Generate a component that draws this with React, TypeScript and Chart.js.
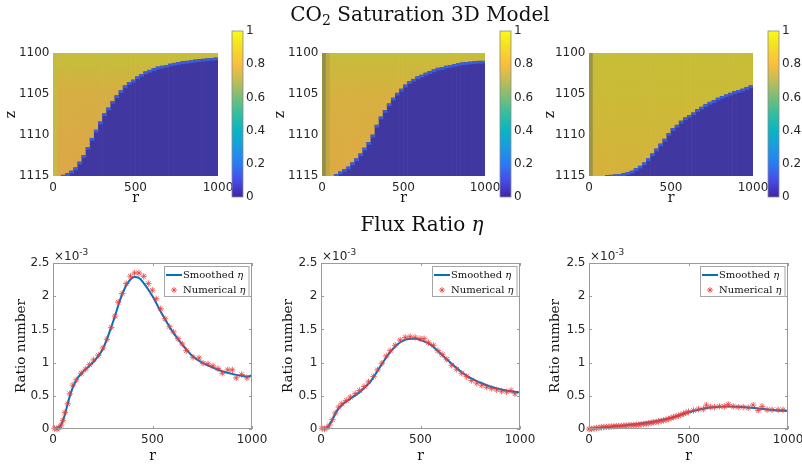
import React, { useEffect, useRef } from "react";
import { Chart, registerables } from "chart.js";
Chart.register(...registerables);

// ---------------- data ----------------
const R_CELLS = [
  12.5, 37.5, 62.5, 87.5, 112.5, 137.5, 162.5, 187.5, 212.5, 237.5,
  262.5, 287.5, 312.5, 337.5, 362.5, 387.5, 412.5, 437.5, 462.5, 487.5,
  512.5, 537.5, 562.5, 587.5, 612.5, 637.5, 662.5, 687.5, 712.5, 737.5,
  762.5, 787.5, 812.5, 837.5, 862.5, 887.5, 912.5, 937.5, 962.5, 987.5,
];
const Z_FRONT_1 = [
  1115, 1115, 1114.9, 1114.7, 1114.4, 1114.0, 1113.3, 1112.5, 1111.5, 1110.4,
  1109.4, 1108.4, 1107.4, 1106.7, 1105.9, 1105.2, 1104.6, 1104.0, 1103.6, 1103.3,
  1102.9, 1102.6, 1102.3, 1102.1, 1101.9, 1101.7, 1101.6, 1101.5, 1101.35, 1101.25,
  1101.15, 1101.05, 1101.0, 1100.95, 1100.85, 1100.8, 1100.75, 1100.7, 1100.65, 1100.6,
];
const Z_FRONT_2 = [
  1115, 1115, 1115, 1114.8, 1114.5, 1114.2, 1113.9, 1113.4, 1112.9, 1112.3,
  1111.6, 1110.9, 1110.0, 1108.8, 1107.8, 1107.0, 1106.2, 1105.5, 1104.9, 1104.4,
  1103.9, 1103.5, 1103.2, 1102.9, 1102.7, 1102.45, 1102.25, 1102.05, 1101.85, 1101.75,
  1101.6, 1101.5, 1101.4, 1101.3, 1101.2, 1101.15, 1101.1, 1101.05, 1101.0, 1101.0,
];
const Z_FRONT_3 = [
  1115, 1115, 1115, 1115, 1114.95, 1114.9, 1114.85, 1114.8, 1114.7, 1114.55,
  1114.4, 1114.1, 1113.8, 1113.4, 1112.9, 1112.3, 1111.7, 1111.1, 1110.5, 1109.8,
  1109.2, 1108.8, 1108.3, 1107.9, 1107.6, 1107.3, 1106.9, 1106.6, 1106.3, 1106.0,
  1105.8, 1105.5, 1105.3, 1105.1, 1104.9, 1104.7, 1104.55, 1104.4, 1104.2, 1104.0,
];

// flux ratio (units of 1e-3)
const R_NUM_1 = [8, 20, 30, 42, 50, 60, 74, 84, 100, 117, 142, 164, 184, 204, 228, 251, 271, 293, 312, 328, 348, 368, 389, 410, 432, 456, 479, 499, 519, 541, 563, 586, 606, 628, 650, 670, 704, 734, 754, 779, 804, 829, 851, 878, 901, 921, 948, 975];
const ETA_NUM_1 = [0.01, 0, 0.02, 0.06, 0.13, 0.25, 0.38, 0.53, 0.66, 0.74, 0.84, 0.9, 0.97, 1.04, 1.11, 1.22, 1.35, 1.53, 1.7, 1.91, 2.04, 2.19, 2.3, 2.35, 2.35, 2.3, 2.19, 2.09, 1.96, 1.81, 1.66, 1.54, 1.46, 1.36, 1.28, 1.18, 1.08, 1.07, 0.99, 0.98, 0.95, 0.91, 0.84, 0.89, 0.89, 0.77, 0.82, 0.77];
const R_SM_1 = [0, 20, 40, 60, 80, 100, 120, 150, 200, 250, 300, 350, 380, 410, 430, 450, 500, 550, 600, 650, 700, 750, 800, 850, 900, 950, 980, 1000];
const ETA_SM_1 = [0, 0.01, 0.06, 0.22, 0.45, 0.63, 0.75, 0.86, 1.0, 1.2, 1.6, 2.05, 2.22, 2.29, 2.28, 2.22, 2.0, 1.72, 1.47, 1.27, 1.1, 1.0, 0.93, 0.87, 0.83, 0.8, 0.79, 0.81];

const R_NUM_2 = [5, 17, 30, 43, 57, 72, 89, 105, 127, 147, 172, 194, 217, 239, 264, 284, 306, 328, 348, 373, 398, 423, 448, 473, 498, 518, 540, 565, 587, 609, 632, 657, 682, 707, 732, 757, 783, 808, 833, 858, 883, 908, 933, 955, 975];
const ETA_NUM_2 = [0.01, 0, 0.02, 0.06, 0.14, 0.24, 0.33, 0.38, 0.43, 0.48, 0.53, 0.58, 0.64, 0.71, 0.79, 0.89, 0.99, 1.1, 1.18, 1.26, 1.34, 1.38, 1.39, 1.38, 1.36, 1.36, 1.3, 1.26, 1.18, 1.12, 1.05, 0.96, 0.9, 0.84, 0.79, 0.73, 0.69, 0.66, 0.63, 0.61, 0.59, 0.57, 0.56, 0.58, 0.53];
const R_SM_2 = [0, 25, 50, 75, 100, 150, 200, 250, 300, 350, 400, 450, 480, 500, 550, 600, 650, 700, 750, 800, 850, 900, 950, 1000];
const ETA_SM_2 = [0, 0.01, 0.1, 0.25, 0.35, 0.46, 0.57, 0.72, 0.95, 1.17, 1.31, 1.36, 1.36, 1.34, 1.27, 1.14, 1.0, 0.87, 0.77, 0.7, 0.64, 0.6, 0.57, 0.55];

const R_NUM_3 = [0, 12, 25, 37, 50, 62, 75, 87, 100, 112, 125, 137, 150, 162, 175, 187, 200, 212, 225, 237, 250, 262, 275, 287, 300, 312, 325, 337, 350, 362, 375, 387, 400, 412, 425, 437, 450, 462, 475, 487, 500, 525, 550, 575, 590, 610, 630, 655, 680, 700, 725, 750, 775, 800, 825, 850, 870, 895, 920, 950, 975];
const ETA_NUM_3 = [0, 0, 0.01, 0.015, 0.02, 0.025, 0.03, 0.032, 0.035, 0.037, 0.04, 0.042, 0.045, 0.047, 0.05, 0.052, 0.055, 0.057, 0.06, 0.062, 0.065, 0.07, 0.075, 0.08, 0.085, 0.092, 0.1, 0.107, 0.115, 0.122, 0.13, 0.14, 0.15, 0.165, 0.18, 0.19, 0.2, 0.215, 0.23, 0.245, 0.26, 0.28, 0.3, 0.3, 0.36, 0.33, 0.33, 0.34, 0.34, 0.37, 0.34, 0.33, 0.33, 0.32, 0.36, 0.28, 0.34, 0.29, 0.29, 0.29, 0.29];
const R_SM_3 = [0, 100, 200, 300, 400, 450, 500, 550, 600, 650, 700, 750, 800, 850, 900, 950, 1000];
const ETA_SM_3 = [0, 0.03, 0.06, 0.1, 0.16, 0.2, 0.25, 0.29, 0.32, 0.335, 0.34, 0.335, 0.325, 0.31, 0.295, 0.28, 0.27];

const X_TICKS = [0, 500, 1000];
const Z_TICKS = [1100, 1105, 1110, 1115];
const CBAR_TICKS = [0, 0.2, 0.4, 0.6, 0.8, 1];
const ETA_TICKS = [0, 0.5, 1, 1.5, 2, 2.5];
const LEGEND_LABELS = ["Smoothed", "Numerical"];

// ---------------- styles ----------------
const W = 802;
const H = 466;
const SANS = '"DejaVu Sans", sans-serif';
const SERIF = '"DejaVu Serif", serif';
const TXT = "#262626";
const LINE_BLUE = "#0072BD";
const STAR_RED = "rgba(232,60,60,0.8)";
const HEAT_BLUE = "rgb(64,55,160)";
const HEAT_EDGE = "rgb(60,92,218)";
const EDGE_DZ = 0.25;
const PARULA: [number, string][] = [
  [0.0, "rgb(62,38,168)"], [0.1, "rgb(70,76,232)"], [0.2, "rgb(42,122,245)"],
  [0.3, "rgb(25,155,225)"], [0.4, "rgb(10,180,195)"], [0.5, "rgb(50,190,160)"],
  [0.6, "rgb(120,190,120)"], [0.7, "rgb(192,188,85)"], [0.8, "rgb(250,190,60)"],
  [0.9, "rgb(245,220,40)"], [1.0, "rgb(249,251,20)"],
];

type Area = { L: number; T: number; R: number; B: number };
type Look = { stops: [number, string][]; strips: Record<number, string> };

const LOOK_1: Look = {
  stops: [[0, "rgb(198,190,58)"], [0.1, "rgb(201,186,60)"], [0.3, "rgb(213,175,66)"], [1, "rgb(222,166,72)"]],
  strips: { 0: "rgb(196,188,66)" },
};
const LOOK_2: Look = {
  stops: [[0, "rgb(198,190,58)"], [0.12, "rgb(204,184,60)"], [0.35, "rgb(215,176,64)"], [1, "rgb(222,170,66)"]],
  strips: { 0: "rgb(150,142,72)", 1: "rgb(190,168,66)" },
};
const LOOK_3: Look = {
  stops: [[0, "rgb(198,190,56)"], [0.4, "rgb(204,186,54)"], [1, "rgb(214,177,60)"]],
  strips: { 0: "rgb(156,148,70)" },
};

const fixedTicks = (vals: number[]) => (s: any) => {
  s.ticks = vals.map((v) => ({ value: v }));
};
const fmt = (v: any) => String(Math.round(Number(v) * 10) / 10);

function gradientFor(c: any, v0: number, v1: number, stops: [number, string][]) {
  const ch = c.chart;
  const ys = ch && ch.scales && ch.scales.y;
  if (!ys || !ch.chartArea) return stops[Math.floor(stops.length / 2)][1];
  const p0 = ys.getPixelForValue(v0);
  const p1 = ys.getPixelForValue(v1);
  if (!isFinite(p0) || !isFinite(p1) || p0 === p1) return stops[Math.floor(stops.length / 2)][1];
  const g = ch.ctx.createLinearGradient(0, p0, 0, p1);
  stops.forEach(([s, col]) => g.addColorStop(s, col));
  return g;
}

function xAxis(xH: number, pad: number, title: boolean) {
  return {
    type: "linear",
    min: X_TICKS[0],
    max: X_TICKS[X_TICKS.length - 1],
    offset: false,
    afterBuildTicks: fixedTicks(X_TICKS),
    afterFit: (s: any) => {
      s.height = xH;
      s.paddingLeft = 0;
      s.paddingRight = 0;
    },
    grid: { display: false, drawTicks: false, offset: false },
    border: { display: false },
    ticks: { autoSkip: false, maxRotation: 0, padding: pad, color: TXT, font: { family: SANS, size: 12 }, callback: fmt },
    title: { display: title, text: "r", color: "#111", padding: 0, font: { family: SERIF, size: 14 } },
  };
}

function yAxis(vals: number[], yW: number, text: string, reverse: boolean, size: number) {
  return {
    type: "linear",
    min: vals[0],
    max: vals[vals.length - 1],
    reverse,
    afterBuildTicks: fixedTicks(vals),
    afterFit: (s: any) => {
      s.width = yW;
      s.paddingTop = 0;
      s.paddingBottom = 0;
    },
    grid: { display: false, drawTicks: false },
    border: { display: false },
    ticks: { autoSkip: false, padding: 3.5, color: TXT, font: { family: SANS, size: 12 }, callback: fmt },
    title: { display: true, text, color: "#111", padding: 0, font: { family: SERIF, size } },
  };
}

function baseOptions(layoutPadding: any) {
  return {
    responsive: false,
    animation: false,
    devicePixelRatio: 1,
    events: [],
    layout: { padding: layoutPadding },
    plugins: { legend: { display: false }, tooltip: { enabled: false }, title: { display: false } },
  };
}

function heatConfig(area: Area, yW: number, front: number[], look: Look) {
  const zTop = Z_TICKS[0];
  const zBot = Z_TICKS[Z_TICKS.length - 1];
  const idx = R_CELLS.map((_, i) => i).filter((i) => front[i] < zBot);
  const xH = 30.4;
  return {
    type: "bar",
    data: {
      datasets: [
        {
          data: R_CELLS.map((r, i) => ({ x: r, y: [zTop, front[i]] })),
          backgroundColor: (c: any) => {
            if (c.dataIndex !== undefined && look.strips[c.dataIndex]) return look.strips[c.dataIndex];
            return gradientFor(c, zTop, zBot, look.stops);
          },
          order: 3,
        },
        { data: idx.map((i) => ({ x: R_CELLS[i], y: [front[i], zBot] })), backgroundColor: HEAT_BLUE, order: 2 },
        {
          data: idx.map((i) => ({ x: R_CELLS[i], y: [front[i], Math.min(front[i] + EDGE_DZ, zBot)] })),
          backgroundColor: HEAT_EDGE,
          order: 1,
        },
      ].map((d) => ({ ...d, grouped: false, barPercentage: 1, categoryPercentage: 1, borderWidth: 0 })),
    },
    options: {
      ...baseOptions({ left: area.L - yW, top: area.T, right: W - area.R, bottom: H - area.B - xH }),
      scales: {
        x: xAxis(xH, 5, true),
        y: yAxis(Z_TICKS, yW, "z", true, 14),
      },
    },
  };
}

function colorbarConfig(area: Area) {
  const axW = 30;
  const frame = {
    id: "cbFrame",
    afterDatasetsDraw(chart: any) {
      const { ctx, chartArea: a } = chart;
      ctx.save();
      ctx.strokeStyle = "#8a8a8a";
      ctx.lineWidth = 0.8;
      ctx.strokeRect(a.left, a.top, a.right - a.left, a.bottom - a.top);
      ctx.restore();
    },
  };
  return {
    type: "bar",
    data: {
      labels: [""],
      datasets: [
        {
          data: [[CBAR_TICKS[0], CBAR_TICKS[CBAR_TICKS.length - 1]]],
          backgroundColor: (c: any) => gradientFor(c, 0, 1, PARULA),
          barPercentage: 1,
          categoryPercentage: 1,
          borderWidth: 0,
        },
      ],
    },
    options: {
      ...baseOptions({ left: area.L, top: area.T, right: W - area.R - axW, bottom: H - area.B }),
      scales: {
        x: { display: false, offset: true },
        y: {
          position: "right",
          min: 0,
          max: 1,
          afterBuildTicks: fixedTicks(CBAR_TICKS),
          afterFit: (s: any) => {
            s.width = axW;
            s.paddingTop = 0;
            s.paddingBottom = 0;
          },
          grid: { display: false, drawTicks: false },
          border: { display: false },
          ticks: { padding: 3, color: TXT, font: { family: SANS, size: 12 }, callback: fmt },
        },
      },
    },
    plugins: [frame],
  };
}

function drawStar(ctx: CanvasRenderingContext2D, x: number, y: number, r: number) {
  const d = r * Math.SQRT1_2;
  ctx.beginPath();
  ctx.moveTo(x - r, y); ctx.lineTo(x + r, y);
  ctx.moveTo(x, y - r); ctx.lineTo(x, y + r);
  ctx.moveTo(x - d, y - d); ctx.lineTo(x + d, y + d);
  ctx.moveTo(x - d, y + d); ctx.lineTo(x + d, y - d);
  ctx.stroke();
}

function fluxConfig(area: Area, yW: number, rs: number[], es: number[], rn: number[], en: number[]) {
  const xH = 36;
  const decor = {
    id: "fluxDecor",
    afterDraw(chart: any) {
      const { ctx, chartArea: a, scales } = chart;
      ctx.save();
      ctx.strokeStyle = "#9a9a9a";
      ctx.lineWidth = 1;
      ctx.strokeRect(Math.round(a.left) + 0.5, Math.round(a.top) + 0.5, Math.round(a.right - a.left) - 1, Math.round(a.bottom - a.top) - 1);
      const tl = 3;
      ctx.beginPath();
      scales.x.ticks.forEach((t: any) => {
        const px = Math.round(scales.x.getPixelForValue(t.value)) + 0.5;
        ctx.moveTo(px, a.bottom); ctx.lineTo(px, a.bottom - tl);
        ctx.moveTo(px, a.top); ctx.lineTo(px, a.top + tl);
      });
      scales.y.ticks.forEach((t: any) => {
        const py = Math.round(scales.y.getPixelForValue(t.value)) + 0.5;
        ctx.moveTo(a.left, py); ctx.lineTo(a.left + tl, py);
        ctx.moveTo(a.right, py); ctx.lineTo(a.right - tl, py);
      });
      ctx.stroke();
      ctx.fillStyle = TXT;
      ctx.textBaseline = "alphabetic";
      ctx.textAlign = "left";
      ctx.font = `12px ${SANS}`;
      ctx.fillText("\u00d710", a.left + 1, a.top - 3);
      const w = ctx.measureText("\u00d710").width;
      ctx.font = `9px ${SANS}`;
      ctx.fillText("-3", a.left + 1 + w, a.top - 8);
      const fN = `10px ${SERIF}`;
      const fI = `italic 10px ${SERIF}`;
      const widths = LEGEND_LABELS.map((t) => {
        ctx.font = fN;
        const w1 = ctx.measureText(t + " ").width;
        ctx.font = fI;
        return w1 + ctx.measureText("\u03b7").width;
      });
      const bw = 19 + Math.max(...widths) + 4;
      const bh = 31;
      const x0 = Math.round(a.right - 3 - bw);
      const y0 = Math.round(a.top + 3);
      ctx.fillStyle = "#fff";
      ctx.fillRect(x0, y0, bw, bh);
      ctx.strokeStyle = "#a6a6a6";
      ctx.lineWidth = 1;
      ctx.strokeRect(x0 + 0.5, y0 + 0.5, bw - 1, bh - 1);
      const r1 = y0 + 9;
      const r2 = y0 + 24;
      ctx.strokeStyle = LINE_BLUE;
      ctx.lineWidth = 2;
      ctx.beginPath();
      ctx.moveTo(x0 + 2, r1);
      ctx.lineTo(x0 + 18, r1);
      ctx.stroke();
      ctx.strokeStyle = STAR_RED;
      ctx.lineWidth = 1;
      drawStar(ctx, x0 + 10, r2, 3);
      ctx.fillStyle = "#111";
      ctx.textBaseline = "middle";
      LEGEND_LABELS.forEach((t, k) => {
        const y = k === 0 ? r1 : r2;
        ctx.font = fN;
        ctx.fillText(t + " ", x0 + 19, y);
        const tw = ctx.measureText(t + " ").width;
        ctx.font = fI;
        ctx.fillText("\u03b7", x0 + 19 + tw, y);
      });
      ctx.restore();
    },
  };
  return {
    type: "line",
    data: {
      datasets: [
        {
          data: rn.map((r, i) => ({ x: r, y: en[i] })),
          showLine: false,
          pointStyle: "star",
          pointRadius: 3.2,
          pointBorderColor: STAR_RED,
          pointBackgroundColor: STAR_RED,
          pointBorderWidth: 1,
          clip: 6,
          order: 0,
        },
        {
          data: rs.map((r, i) => ({ x: r, y: es[i] })),
          borderColor: LINE_BLUE,
          borderWidth: 2,
          pointRadius: 0,
          cubicInterpolationMode: "monotone",
          fill: false,
          order: 1,
        },
      ],
    },
    options: {
      ...baseOptions({ left: area.L - yW, top: area.T, right: W - area.R, bottom: H - area.B - xH }),
      scales: {
        x: xAxis(xH, 4, true),
        y: yAxis(ETA_TICKS, yW, "Ratio number", false, 13.5),
      },
    },
    plugins: [decor],
  };
}

const MAKERS: (() => any)[] = [
  () => heatConfig({ L: 53, T: 53, R: 218, B: 176 }, 50.5, Z_FRONT_1, LOOK_1),
  () => heatConfig({ L: 322, T: 53, R: 485, B: 176 }, 50.4, Z_FRONT_2, LOOK_2),
  () => heatConfig({ L: 589, T: 53, R: 753, B: 176 }, 47.4, Z_FRONT_3, LOOK_3),
  () => colorbarConfig({ L: 232, T: 31, R: 243, B: 197 }),
  () => colorbarConfig({ L: 500, T: 31, R: 511, B: 197 }),
  () => colorbarConfig({ L: 768, T: 31, R: 779, B: 197 }),
  () => fluxConfig({ L: 53, T: 263, R: 252, B: 429 }, 40, R_SM_1, ETA_SM_1, R_NUM_1, ETA_NUM_1),
  () => fluxConfig({ L: 321, T: 263, R: 520, B: 429 }, 40.8, R_SM_2, ETA_SM_2, R_NUM_2, ETA_NUM_2),
  () => fluxConfig({ L: 589, T: 263, R: 788, B: 429 }, 41.3, R_SM_3, ETA_SM_3, R_NUM_3, ETA_NUM_3),
];

function ChartCanvas({ make }: { make: () => any }) {
  const ref = useRef<HTMLCanvasElement | null>(null);
  useEffect(() => {
    if (!ref.current) return;
    let chart: Chart | null = null;
    try {
      chart = new Chart(ref.current, make());
    } catch (e) {
      console.error(e);
    }
    return () => {
      if (chart) chart.destroy();
    };
  }, [make]);
  return (
    <canvas
      ref={ref}
      width={W}
      height={H}
      style={{ position: "absolute", left: 0, top: 0, width: W, height: H, pointerEvents: "none" }}
    />
  );
}

export default function App() {
  return (
    <div style={{ position: "fixed", left: 0, top: 0, width: W, height: H, background: "#fff", overflow: "hidden" }}>
      {MAKERS.map((m, i) => (
        <ChartCanvas key={i} make={m} />
      ))}
      <div
        style={{
          position: "absolute",
          left: 420,
          top: 4,
          transform: "translateX(-50%)",
          fontFamily: SERIF,
          fontSize: 20,
          lineHeight: "20px",
          whiteSpace: "nowrap",
          color: "#111",
        }}
      >
        CO<span style={{ fontSize: 14, position: "relative", top: 4 }}>2</span> Saturation 3D Model
      </div>
      <div
        style={{
          position: "absolute",
          left: 422,
          top: 214,
          transform: "translateX(-50%)",
          fontFamily: SERIF,
          fontSize: 20,
          lineHeight: "20px",
          whiteSpace: "nowrap",
          color: "#111",
        }}
      >
        Flux Ratio <i>{"\u03b7"}</i>
      </div>
    </div>
  );
}
